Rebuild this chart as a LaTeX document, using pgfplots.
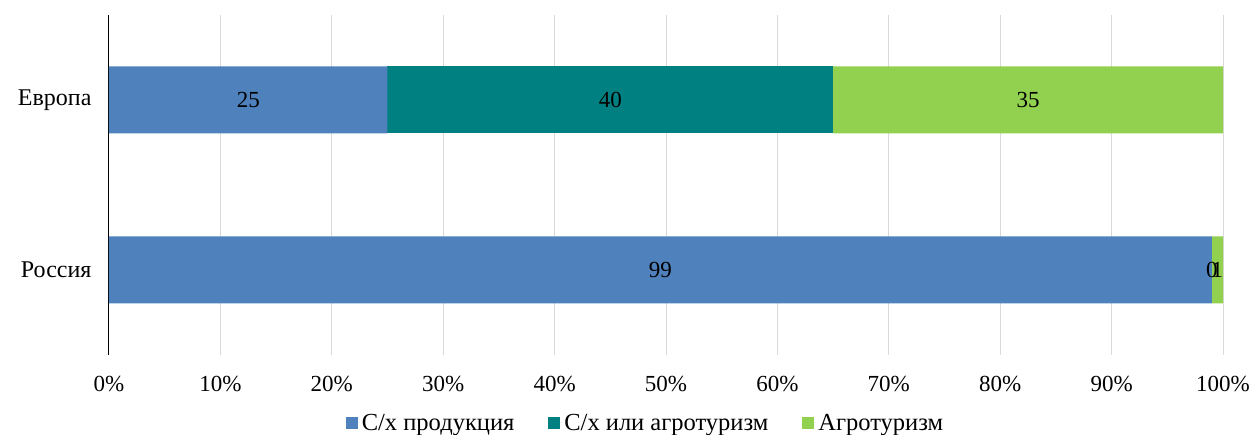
\documentclass[border=0pt]{standalone}
\usepackage{pgfplots}
\pgfplotsset{compat=1.18}
\usepackage{fontspec}
\setmainfont{Liberation Serif}
\definecolor{cblue}{HTML}{4F81BD}
\definecolor{cteal}{HTML}{008080}
\definecolor{cgreen}{HTML}{92D050}
\begin{document}
\begin{tikzpicture}[font=\fontsize{23}{27}\selectfont]
\path[use as bounding box] (-109pt,-80pt) rectangle (1145pt,355pt);
\begin{axis}[
  at={(0,0)}, anchor=south west,
  scale only axis, width=1114pt, height=340pt,
  xbar stacked, bar width=67pt,
  xmin=0, xmax=100, ymin=-0.5, ymax=1.5,
  ytick={0,1}, yticklabels={Россия,Европа},
  yticklabel style={font=\fontsize{24}{28}\selectfont, xshift=-14pt},
  xtick={0,10,...,100},
  xticklabel={\pgfmathprintnumber{\tick}\%},
  xticklabel style={yshift=-18pt},
  /pgf/number format/assume math mode=true,
  major tick length=0pt,
  xmajorgrids, grid style={draw=black!15, line width=1pt},
  axis x line*=bottom, axis y line*=left,
  x axis line style={draw=none},
  y axis line style={black, line width=1pt},
  legend style={at={(0.4816,-0.2)}, anchor=center, draw=none, legend columns=3,
    font=\fontsize{24.5}{28}\selectfont,
    nodes={inner sep=2pt},
    /tikz/every even column/.append style={column sep=32pt}},
  legend image code/.code={\fill[#1] (0pt,-6pt) rectangle (12pt,6pt); \path (0pt,0pt) -- (14pt,0pt);},
]
\addplot[fill=cblue, draw=none] coordinates {(99,0) (25,1)};
\addplot[fill=cteal, draw=none] coordinates {(0,0) (40,1)};
\addplot[fill=cgreen, draw=none] coordinates {(1,0) (35,1)};
\legend{С/х продукция, С/х или агротуризм, Агротуризм}
\end{axis}
\begin{axis}[
  at={(0,0)}, anchor=south west,
  scale only axis, width=1114pt, height=340pt,
  xmin=0, xmax=100, ymin=-0.5, ymax=1.5, hide axis]
\addplot[only marks, mark=none, nodes near coords, point meta=explicit symbolic,
  nodes near coords align={center}] table[meta=label] {
x y label
12.5 1 25
45 1 40
82.5 1 35
49.5 0 99
99 0 0
99.5 0 1
};
\end{axis}
\end{tikzpicture}
\end{document}
